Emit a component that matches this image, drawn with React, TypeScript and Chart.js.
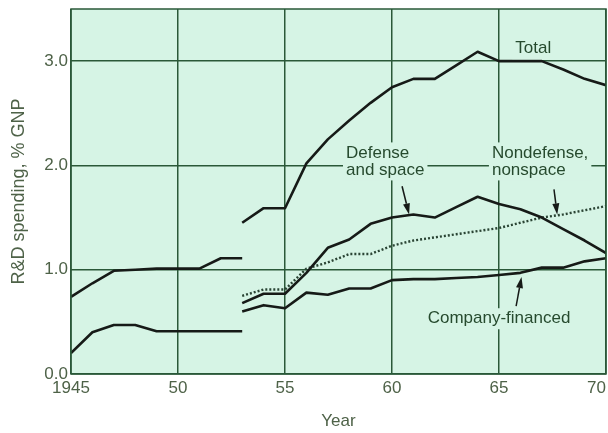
import React, { useEffect, useRef } from "react";
import { Chart, registerables } from "chart.js";

Chart.register(...registerables);

// ---- Data ----
const earlyYears = [1945, 1946, 1947, 1948, 1949, 1950, 1951, 1952, 1953];
const totalEarly = [0.74, 0.87, 0.99, 1.0, 1.01, 1.01, 1.01, 1.11, 1.11];
const federalEarly = [0.2, 0.4, 0.47, 0.47, 0.41, 0.41, 0.41, 0.41, 0.41];

const lateYears = [1953, 1954, 1955, 1956, 1957, 1958, 1959, 1960, 1961, 1962, 1963, 1964, 1965, 1966, 1967, 1968, 1969, 1970];
const totalLate = [1.45, 1.59, 1.59, 2.02, 2.25, 2.43, 2.6, 2.75, 2.83, 2.83, 2.96, 3.09, 3.0, 3.0, 3.0, 2.92, 2.83, 2.77];
const defenseSpace = [0.68, 0.77, 0.77, 0.97, 1.21, 1.29, 1.44, 1.5, 1.53, 1.5, 1.6, 1.7, 1.63, 1.58, 1.5, 1.39, 1.28, 1.16];
const nondefense = [0.75, 0.81, 0.81, 1.01, 1.07, 1.15, 1.15, 1.23, 1.28, 1.31, 1.34, 1.37, 1.4, 1.45, 1.5, 1.53, 1.57, 1.61];
const companyFinanced = [0.6, 0.66, 0.63, 0.78, 0.76, 0.82, 0.82, 0.9, 0.91, 0.91, 0.92, 0.93, 0.95, 0.97, 1.02, 1.02, 1.08, 1.11];

const xTickValues = [1945, 1950, 1955, 1960, 1965, 1970];
const xTickLabels = ["1945", "50", "55", "60", "65", "70    "];
const yTickValues = [0, 1, 2, 3];
const yTickLabels = ["0.0", "1.0", "2.0", "3.0"];

const xTitle = "Year";
const yTitle = "R&D spending, % GNP";

// ---- Styles ----
const BG = "rgb(214, 244, 229)";
const GRID = "rgb(42, 88, 56)";
const TEXT = "rgb(78, 98, 72)";
const LABEL = "rgb(38, 74, 46)";
const LINE = "#161a17";
const FONT = "'Liberation Sans', Arial, sans-serif";

const pts = (xs: number[], ys: number[]) => xs.map((x, i) => ({ x, y: ys[i] }));

type Annot = { lines: string[]; x: number; y: number; align: CanvasTextAlign };
const annotations: Annot[] = [
  { lines: ["Total"], x: 1966.6, y: 3.12, align: "center" },
  { lines: ["Defense", "and space"], x: 1957.85, y: 2.12, align: "left" },
  { lines: ["Nondefense,", "nonspace"], x: 1964.67, y: 2.12, align: "left" },
  { lines: ["Company-financed"], x: 1965.0, y: 0.53, align: "center" },
];
const arrows = [
  { from: [1960.47, 1.8], to: [1960.8, 1.53] },
  { from: [1967.57, 1.77], to: [1967.72, 1.53] },
  { from: [1965.8, 0.65], to: [1966.05, 0.93] },
];

const bgPlugin = {
  id: "bgPlugin",
  beforeDraw(chart: any) {
    const { ctx, chartArea: a } = chart;
    ctx.save();
    ctx.fillStyle = BG;
    ctx.fillRect(a.left, a.top, a.right - a.left, a.bottom - a.top);
    ctx.restore();
  },
};

const annotPlugin = {
  id: "annotPlugin",
  afterDatasetsDraw(chart: any) {
    const { ctx, chartArea: a, scales } = chart;
    const xs = scales.x;
    const ys = scales.y;
    ctx.save();
    // frame
    ctx.strokeStyle = GRID;
    ctx.lineWidth = 1.5;
    ctx.strokeRect(a.left, a.top, a.right - a.left, a.bottom - a.top);

    ctx.font = `17px ${FONT}`;
    ctx.textBaseline = "middle";
    const lh = 17;
    annotations.forEach((an) => {
      const px = xs.getPixelForValue(an.x);
      const py = ys.getPixelForValue(an.y);
      const widths = an.lines.map((l) => ctx.measureText(l).width);
      const w = Math.max(...widths);
      const left = an.align === "center" ? px - w / 2 : px;
      ctx.fillStyle = BG;
      ctx.fillRect(left - 3, py - lh / 2 - 2, w + 6, lh * an.lines.length + 4);
      ctx.fillStyle = LABEL;
      ctx.textAlign = an.align;
      an.lines.forEach((l, i) => ctx.fillText(l, px, py + i * lh));
    });

    ctx.strokeStyle = LINE;
    ctx.fillStyle = LINE;
    ctx.lineWidth = 1.5;
    arrows.forEach((ar) => {
      const x1 = xs.getPixelForValue(ar.from[0]);
      const y1 = ys.getPixelForValue(ar.from[1]);
      const x2 = xs.getPixelForValue(ar.to[0]);
      const y2 = ys.getPixelForValue(ar.to[1]);
      const ang = Math.atan2(y2 - y1, x2 - x1);
      const hl = 11;
      const hw = 3.5;
      const bx = x2 - hl * Math.cos(ang);
      const by = y2 - hl * Math.sin(ang);
      ctx.beginPath();
      ctx.moveTo(x1, y1);
      ctx.lineTo(bx, by);
      ctx.stroke();
      ctx.beginPath();
      ctx.moveTo(x2, y2);
      ctx.lineTo(bx + hw * Math.sin(ang), by - hw * Math.cos(ang));
      ctx.lineTo(bx - hw * Math.sin(ang), by + hw * Math.cos(ang));
      ctx.closePath();
      ctx.fill();
    });
    ctx.restore();
  },
};

export default function App() {
  const ref = useRef<HTMLCanvasElement | null>(null);

  useEffect(() => {
    if (!ref.current) return;
    const solid = (label: string, data: any) => ({
      label,
      data,
      borderColor: LINE,
      borderWidth: 2.6,
      pointRadius: 0,
      tension: 0,
      fill: false,
      borderJoinStyle: "round" as const,
    });
    const chart = new Chart(ref.current, {
      type: "line",
      data: {
        datasets: [
          solid("Total (1945-53)", pts(earlyYears, totalEarly)),
          solid("Federal (1945-53)", pts(earlyYears, federalEarly)),
          solid("Total", pts(lateYears, totalLate)),
          solid("Defense and space", pts(lateYears, defenseSpace)),
          {
            ...solid("Nondefense, nonspace", pts(lateYears, nondefense)),
            borderColor: "#2a4434",
            borderDash: [2, 2],
            borderWidth: 2.4,
          },
          solid("Company-financed", pts(lateYears, companyFinanced)),
        ],
      },
      options: {
        animation: false,
        responsive: false,
        maintainAspectRatio: false,
        layout: { padding: { top: 9, right: 2, left: 0, bottom: 0 } },
        plugins: { legend: { display: false }, tooltip: { enabled: false }, title: { display: false } },
        scales: {
          x: {
            type: "linear",
            min: 1945,
            max: 1970,
            afterBuildTicks: (s: any) => {
              s.ticks = xTickValues.map((v) => ({ value: v }));
            },
            afterFit: (s: any) => {
              s.height = 59;
              s.paddingLeft = 0;
              s.paddingRight = 0;
            },
            ticks: {
              autoSkip: false,
              maxRotation: 0,
              padding: 4,
              color: TEXT,
              font: { size: 17, family: FONT },
              callback: (v: any) => {
                const i = xTickValues.indexOf(Number(v));
                return i >= 0 ? xTickLabels[i] : "";
              },
            },
            grid: { color: GRID, lineWidth: 1.5, drawTicks: false },
            border: { display: false },
            title: {
              display: true,
              text: xTitle,
              color: TEXT,
              font: { size: 17, family: FONT },
              padding: { top: 0, bottom: 1 },
            },
          },
          y: {
            min: 0,
            max: 3.5,
            afterBuildTicks: (s: any) => {
              s.ticks = yTickValues.map((v) => ({ value: v }));
            },
            afterFit: (s: any) => {
              s.width = 71;
              s.paddingTop = 0;
              s.paddingBottom = 0;
            },
            ticks: {
              padding: 3,
              color: TEXT,
              font: { size: 17, family: FONT },
              callback: (v: any) => {
                const i = yTickValues.indexOf(Number(v));
                return i >= 0 ? yTickLabels[i] : "";
              },
            },
            grid: { color: GRID, lineWidth: 1.5, drawTicks: false },
            border: { display: false },
            title: {
              display: true,
              text: yTitle,
              color: TEXT,
              font: { size: 18, family: FONT },
              padding: { top: 8, bottom: 0 },
            },
          },
        },
      },
      plugins: [bgPlugin, annotPlugin],
    });
    return () => chart.destroy();
  }, []);

  return (
    <div style={{ position: "absolute", left: 0, top: 0, width: 608, height: 433, background: "#fff" }}>
      <canvas ref={ref} width={608} height={433} style={{ display: "block" }} />
    </div>
  );
}
